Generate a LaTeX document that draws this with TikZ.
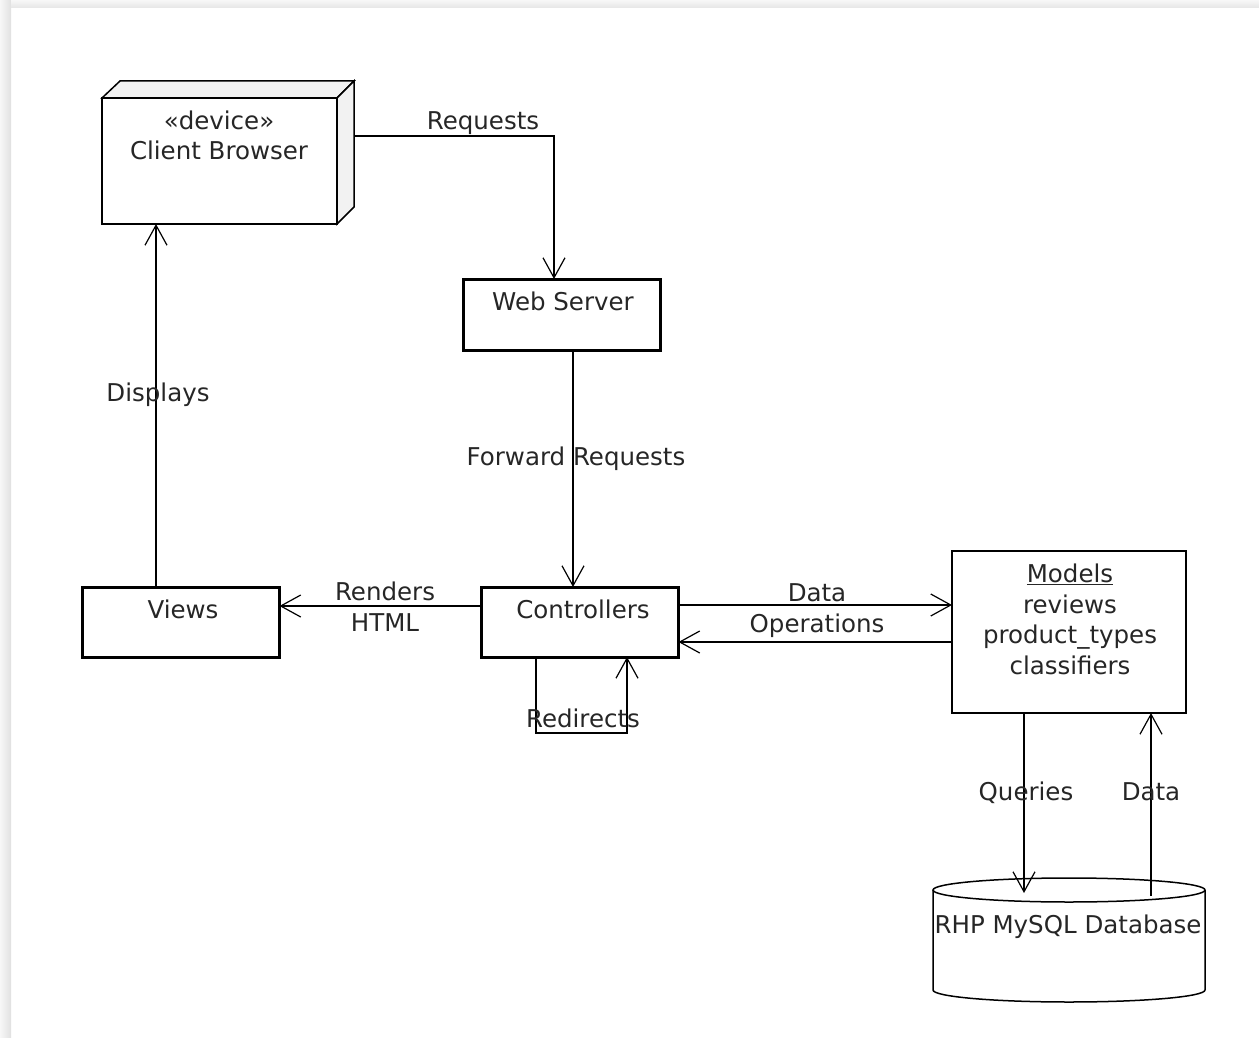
\documentclass[tikz,border=0pt]{standalone}
\usepackage{fontspec}
\setmainfont{DejaVu Sans}
\usetikzlibrary{arrows.meta}

\begin{document}
\begin{tikzpicture}[x=1pt,y=-1pt,
  every node/.style={font=\fontsize{24.5}{30.5}\selectfont, text=black!85, inner sep=0pt, outer sep=0pt},
  txt/.style={anchor=base, align=center},
  thinbox/.style={draw=black, fill=white, line width=1.5pt},
  thickbox/.style={draw=black, fill=white, line width=3pt},
  conn/.style={draw=black, line width=1.5pt, -{Straight Barb[length=20pt,width=22pt,line width=1.2pt]}},
  wire/.style={draw=black, line width=1.5pt}]
\useasboundingbox (0,0) rectangle (1259,1038);
% page shadow
\shade[left color=gray!6, right color=gray!24] (0,0) rectangle (11,1038);
\shade[top color=gray!6, bottom color=gray!20] (11,0) rectangle (1259,8);

% boxes
\node[thinbox, minimum width=235pt, minimum height=126pt] (client) at (219.5,161) {};
\filldraw[fill=gray!10, line width=1.5pt] (client.north west) -- ++(18,-17) -- ([shift={(17,-17)}]client.north east) -- (client.north east) -- cycle;
\filldraw[fill=gray!10, line width=1.5pt] (client.north east) -- ++(17,-17) -- ([shift={(17,-17)}]client.south east) -- (client.south east) -- cycle;
\node[thickbox, minimum width=197pt, minimum height=71pt] (web) at (561.5,314.5) {};
\node[thickbox, minimum width=197pt, minimum height=70pt] (ctrl) at (580,622) {};
\node[thickbox, minimum width=197pt, minimum height=70pt] (views) at (181,622) {};
\node[thinbox, minimum width=234pt, minimum height=162pt] (models) at (1069,632) {};

% database
\filldraw[fill=white, line width=1.5pt] (933,890) -- (933,990) arc[start angle=180, end angle=360, x radius=136pt, y radius=12pt] -- (1205,890);
\filldraw[fill=white, line width=1.5pt] (1069,890) ellipse[x radius=136pt, y radius=12pt];
\coordinate (dbq) at (1024,893);
\coordinate (dbd) at (1151,896);

% texts
\node[txt] (clienttxt) at (219,160) {«device»\\Client Browser};
\node[txt] (webtxt) at (563,310) {Web Server};
\node[txt] (ctrltxt) at (583,618) {Controllers};
\node[txt] (viewstxt) at (183,618) {Views};
\node[txt] (modelstxt) at (1070,674) {\underline{Models}\\reviews\\product\_types\\classifiers};
\node[txt] (dbtxt) at (1068,933) {RHP MySQL Database};

% connectors
\coordinate (reqout) at ([shift={(17,-25)}]client.east);
\draw[conn] (reqout) -| ([xshift=-7.5pt]web.north);
\coordinate (fwd) at ([xshift=11.5pt]web.south);
\draw[conn] (fwd) -- (fwd |- ctrl.north);
\coordinate (disp) at ([xshift=-25pt]views.north);
\draw[conn] (disp) -- (disp |- client.south);
\coordinate (rend) at ([yshift=16pt]ctrl.west);
\draw[conn] (rend) -- (rend -| views.east);
\coordinate (dataout) at ([yshift=17pt]ctrl.east);
\draw[conn] (dataout) -- (dataout -| models.west);
\coordinate (datain) at ([yshift=-20pt]ctrl.east);
\draw[conn] (datain -| models.west) -- (datain);
\coordinate (rdA) at ([xshift=-44pt]ctrl.south);
\coordinate (rdB) at ([xshift=47pt]ctrl.south);
\draw[conn] (rdA) -- ++(0,76) -| (rdB);
\coordinate (qry) at ([xshift=-45pt]models.south);
\draw[conn] (qry) -- (qry |- dbq);
\coordinate (dat) at ([xshift=82pt]models.south);
\draw[conn] (dat |- dbd) -- (dat);

% connector labels
\node[txt] (reqlbl) at (483,130) {Requests};
\node[txt] (displbl) at (158,401) {Displays};
\node[txt] (fwdlbl) at (576,465) {Forward Requests};
\node[txt] (rendlbl) at (385,631) {Renders\\HTML};
\node[txt] (datalbl) at (817,632) {Data\\Operations};
\node[txt] (rdlbl) at (583,727) {Redirects};
\node[txt] (qrylbl) at (1026,800) {Queries};
\node[txt] (datlbl) at (1151,800) {Data};
\end{tikzpicture}
\end{document}
